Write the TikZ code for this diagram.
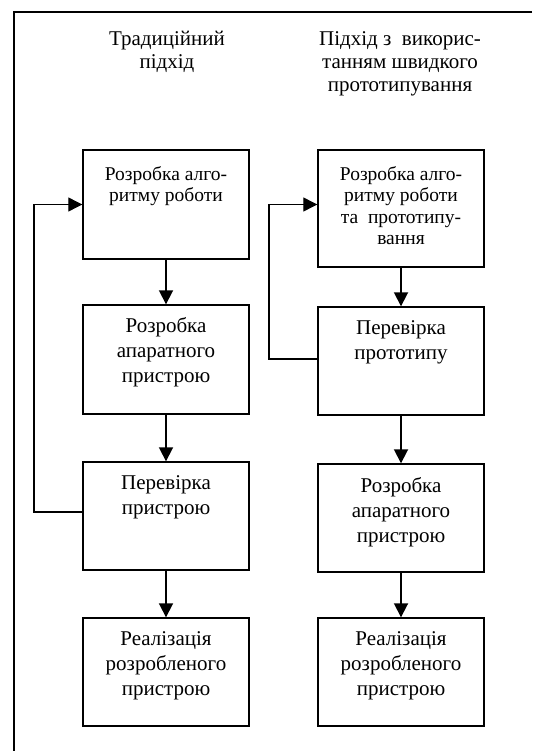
\documentclass[tikz,border=0pt]{standalone}
\usepackage{fontspec}
\setmainfont{Liberation Serif}
\usetikzlibrary{arrows.meta}
\usetikzlibrary{positioning}

\tikzset{
  stage/.style={draw, line width=1.4pt, minimum width=166pt, minimum height=108pt, inner sep=0pt},
  stagetext/.style={align=center, inner sep=0pt, font=\fontsize{21}{25}\selectfont},
  smalltext/.style={align=center, inner sep=0pt, font=\fontsize{19.5}{21.5}\selectfont},
  heading/.style={align=center, inner sep=0pt, font=\fontsize{21}{23}\selectfont},
  flow/.style={line width=1.8pt, -{Triangle[width=14pt,length=14pt]}},
  feedback/.style={line width=1.2pt, -{Triangle[width=14pt,length=14pt]}}
}

\begin{document}
\begin{tikzpicture}[x=1pt, y=-1pt, line join=miter]

\useasboundingbox (0,0) rectangle (532,751);

\def\xleft{166}
\def\xright{401}

% Frame
\draw[line width=1.2pt] (532,12) -- (14,12) -- (14,751);

% Headings
\node[heading, anchor=north] (hleft) at (167,31) {Традиційний\\підхід};
\node[heading, anchor=north] (hright) at (400,31) {Підхід з\ \ викорис-\\танням швидкого\\прототипування};

% Drawing left column
\node[stage, minimum height=109pt] (L1) at (\xleft,204.5) {};
\node[stage, minimum height=109pt] (L2) at (\xleft,359.5) {};
\node[stage] (L3) at (\xleft,516) {};
\node[stage] (L4) at (\xleft,672) {};

\node[smalltext, below=17pt of L1.north, anchor=north] (tL1) {Розробка алго-\\ритму роботи};
\node[stagetext, below=13pt of L2.north, anchor=north] (tL2) {Розробка\\апаратного\\пристрою};
\node[stagetext, below=14pt of L3.north, anchor=north] (tL3) {Перевірка\\пристрою};
\node[stagetext, below=14pt of L4.north, anchor=north] (tL4) {Реалізація\\розробленого\\пристрою};

\draw[flow] (L1) -- (L2);
\draw[flow] (L2) -- (L3);
\draw[flow] (L3) -- (L4);

\coordinate (fbL) at (34,0);
\draw[feedback] ([yshift=4pt]L3.west) -| (fbL |- L1.west) -- (L1.west);

% Drawing right column
\node[stage, minimum height=117pt] (R1) at (\xright,208.5) {};
\node[stage] (R2) at (\xright,361) {};
\node[stage] (R3) at (\xright,518) {};
\node[stage] (R4) at (\xright,672) {};

\node[smalltext, below=17pt of R1.north, anchor=north] (tR1) {Розробка алго-\\ритму роботи\\та\ \ прототипу-\\вання};
\node[stagetext, below=14pt of R2.north, anchor=north] (tR2) {Перевірка\\прототипу};
\node[stagetext, below=14pt of R3.north, anchor=north] (tR3) {Розробка\\апаратного\\пристрою};
\node[stagetext, below=14pt of R4.north, anchor=north] (tR4) {Реалізація\\розробленого\\пристрою};

\draw[flow] (R1) -- (R2);
\draw[flow] (R2) -- (R3);
\draw[flow] (R3) -- (R4);

\coordinate (fbR) at (269,0);
\draw[feedback] ([yshift=2pt]R2.west) -| (fbR |- L1.west) -- (R1.west |- L1.west);

\end{tikzpicture}
\end{document}
